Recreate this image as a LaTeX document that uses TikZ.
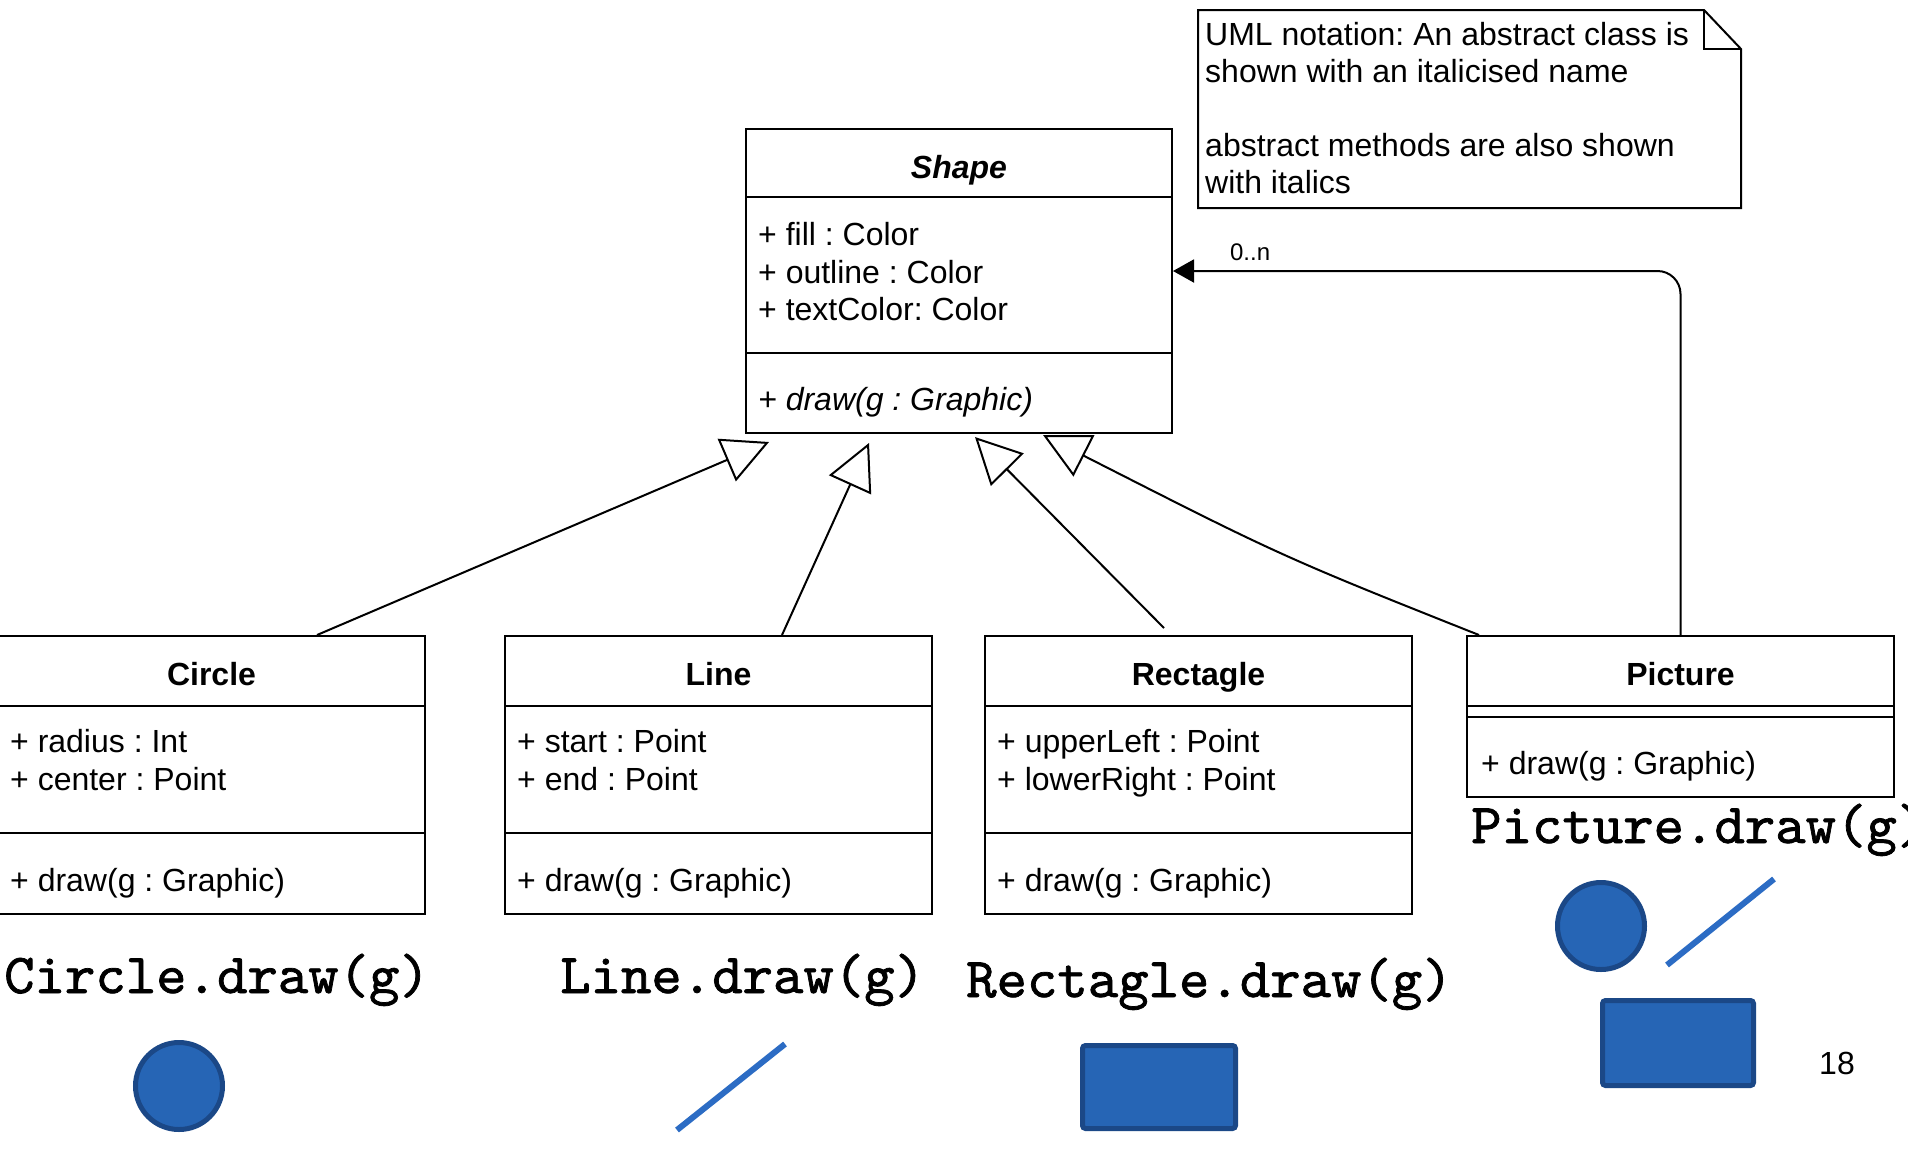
\documentclass[tikz,border=0pt]{standalone}
\usepackage{fontspec}
\setmainfont{Liberation Sans}
\newfontfamily\codefont{lmmono10-regular.otf}[FakeBold=1.3,FakeStretch=1.025]
\usepackage{xcolor}
\usetikzlibrary{arrows.meta,positioning}

\newcommand{\umlsize}{\fontsize{32}{37.5}\selectfont}
\definecolor{shapeblue}{RGB}{38,101,181}
\definecolor{shapeedge}{RGB}{27,72,135}
\definecolor{lineblue}{RGB}{44,108,196}

\tikzset{
  classbox/.style={draw,line width=2pt,anchor=north west,minimum width=427pt,inner sep=0pt},
  divider/.style={line width=2pt},
  classname/.style={anchor=base,font=\umlsize\bfseries,inner sep=0pt},
  members/.style={anchor=north west,align=left,inner sep=0pt,font=\umlsize},
  inherit/.style={line width=2pt,-{Triangle[open,length=46pt,width=46pt]}},
  assoc/.style={line width=2pt,rounded corners=23pt,-{Triangle[length=21pt,width=23pt]}},
  codelabel/.style={anchor=base west,inner sep=0pt,font=\codefont\fontsize{56.5}{64}\selectfont},
  drawn/.style={fill=shapeblue,draw=shapeedge,line width=5pt},
}

\begin{document}
\frenchspacing
\begin{tikzpicture}[x=1pt,y=-1pt]
  \path[use as bounding box,fill=white] (0,0) rectangle (1908,1160);

  % abstract class
  \node[classbox,minimum width=426pt,minimum height=304pt] (shape) at (745,128) {};
  \draw[divider] ([yshift=-69pt]shape.north west) -- ([yshift=-69pt]shape.north east);
  \draw[divider] ([yshift=-225pt]shape.north west) -- ([yshift=-225pt]shape.north east);
  \node[classname,font=\umlsize\bfseries\itshape] (shapeName) at ([yshift=-50.5pt]shape.north) {Shape};
  \node[members] (shapeAttr) at ([xshift=13pt,yshift=-94.5pt]shape.north west) {+ fill : Color\\+ outline : Color\\+ textColor: Color};
  \node[members,font=\umlsize\itshape] (shapeOps) at ([xshift=13pt,yshift=-259.5pt]shape.north west) {+ draw(g : Graphic)};

  \foreach \ctitle/\cname/\cx/\attrs in {Circle/circle/-3/{+ radius : Int\\+ center : Point},Line/line/504/{+ start : Point\\+ end : Point},Rectagle/rect/984/{+ upperLeft : Point\\+ lowerRight : Point}} {
    \node[classbox,minimum height=278pt] (\cname) at (\cx,635) {};
    \draw[divider] ([yshift=-71pt]\cname.north west) -- ([yshift=-71pt]\cname.north east);
    \draw[divider] ([yshift=-198pt]\cname.north west) -- ([yshift=-198pt]\cname.north east);
    \node[classname] (\cname Name) at ([yshift=-50.5pt]\cname.north) {\ctitle};
    \node[members] (\cname Attr) at ([xshift=13pt,yshift=-94.5pt]\cname.north west) {\attrs};
    \node[members] (\cname Ops) at ([xshift=13pt,yshift=-233.5pt]\cname.north west) {+ draw(g : Graphic)};
  }

  \node[classbox,minimum height=161pt] (picture) at (1466,635) {};
  \draw[divider] ([yshift=-71pt]picture.north west) -- ([yshift=-71pt]picture.north east);
  \draw[divider] ([yshift=-82pt]picture.north west) -- ([yshift=-82pt]picture.north east);
  \node[classname] (pictureName) at ([yshift=-50.5pt]picture.north) {Picture};
  \node[members] (pictureOps) at ([xshift=15pt,yshift=-116.5pt]picture.north west) {+ draw(g : Graphic)};

  % generalisation and aggregation
  \coordinate (tipCircle) at (769,442);
  \coordinate (tipLine) at (869,443);
  \coordinate (tipRect) at (975,437);
  \coordinate (tipPicture) at (1043,435);
  \draw[inherit] ([xshift=105.5pt]circle.north) -- (tipCircle);
  \draw[inherit] ([xshift=63.5pt]line.north) -- (tipLine);
  \draw[inherit] ([xshift=-34.5pt,yshift=7pt]rect.north) -- (tipRect);
  \draw[inherit] ([xshift=-201.5pt]picture.north) .. controls (1280,556) and (1275,553) .. (tipPicture);
  \draw[assoc] (picture.north) |- ([yshift=10pt]shape.east) node[pos=0.924,above=9pt,inner sep=0pt,font=\fontsize{24}{28}\selectfont] (mult) {0..n};

  % note
  \draw[line width=2pt] (1198,10) -- (1704,10) -- (1741,49) -- (1741,208) -- (1198,208) -- cycle;
  \draw[line width=2pt] (1704,10) -- (1704,49) -- (1741,49);
  \node[anchor=north west,align=left,inner sep=0pt,font=\fontsize{32}{37}\selectfont] (note) at (1205,22) {UML notation: An abstract class is\\shown with an italicised name\\[37pt]abstract methods are also shown\\with italics};

  % calls and what they draw
  \node[codelabel] (circleCall) at (4,993) {Circle.draw(g)};
  \node[codelabel] (lineCall) at (560,993) {Line.draw(g)};
  \node[codelabel] (rectCall) at (966,997) {Rectagle.draw(g)};
  \node[codelabel] (pictureCall) at (1471,843) {Picture.draw(g)};
  \draw[drawn] (179,1086) circle[radius=43.5pt];
  \draw[lineblue,line width=6pt] (677,1130) -- (785,1044);
  \draw[drawn,rounded corners=3pt] (1082.5,1045.5) rectangle (1235.5,1128.5);
  \draw[drawn] (1601,926) circle[radius=43.5pt];
  \draw[lineblue,line width=6pt] (1667,965) -- (1774,879);
  \draw[drawn,rounded corners=3pt] (1602.5,1000.5) rectangle (1753.5,1085.5);
  \node[font=\umlsize] (page) at (1837,1063) {18};
\end{tikzpicture}
\end{document}
